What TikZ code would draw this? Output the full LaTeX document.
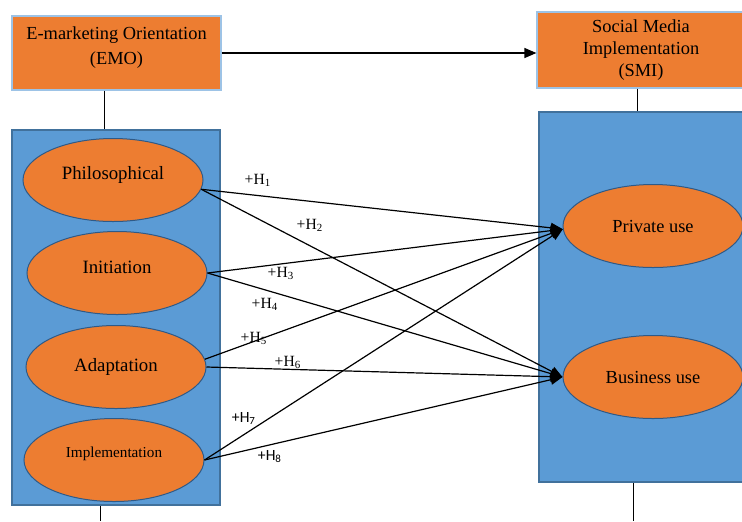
\documentclass[tikz,border=0pt]{standalone}
\usepackage{fontspec}
\setmainfont{Liberation Serif}
\newfontfamily\hsans{Carlito}
\usetikzlibrary{shapes.geometric,arrows.meta}

\definecolor{boxorange}{HTML}{ED7D31}
\definecolor{panelblue}{HTML}{5B9BD5}
\definecolor{paneledge}{HTML}{41719C}
\definecolor{lightedge}{HTML}{9DC3E6}
\definecolor{ovaledge}{HTML}{2E5A88}

\tikzset{
  construct/.style={draw=lightedge, line width=0.6pt, fill=boxorange, align=center, inner sep=0pt,
    font=\fontsize{9.2}{10.8}\selectfont},
  panel/.style={draw=paneledge, line width=0.9pt, fill=panelblue, inner sep=0pt},
  dimension/.style={ellipse, draw=ovaledge, line width=0.5pt, fill=boxorange, inner sep=0pt,
    minimum width=90pt, minimum height=41.5pt, font=\fontsize{9.4}{11}\selectfont},
  hyp/.style={-{Triangle[length=6pt,width=5pt]}, line width=0.6pt},
  hlabel/.style={inner sep=0pt, font=\fontsize{7.8}{9}\selectfont}
}

\begin{document}
\begin{tikzpicture}[x=0.5pt,y=-0.5pt]
  \useasboundingbox (0,0) rectangle (742,521);

  % top constructs
  \node[construct, minimum width=104.5pt, minimum height=37pt, text depth=7pt,
    font=\fontsize{9.2}{12.5}\selectfont] (emo) at (116.5,53)
    {E-marketing Orientation\\(EMO)};
  \node[construct, minimum width=104pt, minimum height=38pt] (smi) at (641,50)
    {Social Media\\Implementation\\(SMI)};

  % panels
  \node[panel, minimum width=104pt, minimum height=187.5pt] (leftpanel) at (116,317.5) {};
  \node[panel, minimum width=103pt, minimum height=185pt] (rightpanel) at (642,297) {};

  % dimensions of EMO
  \node[dimension, text depth=7pt] (phil) at (113,180) {Philosophical};
  \node[dimension, text depth=6pt] (init) at (117,273) {Initiation};
  \node[dimension] (adapt) at (116,367) {Adaptation};
  \node[dimension, text depth=8pt, font=\fontsize{7.6}{9}\selectfont] (impl) at (114,460) {Implementation};

  % dimensions of SMI
  \node[dimension, font=\fontsize{9.2}{11}\selectfont] (priv) at (653,226) {Private use};
  \node[dimension, font=\fontsize{9.2}{11}\selectfont] (bus) at (653,377) {Business use};

  \coordinate (lefttail) at (100,521);
  \coordinate (righttail) at (633,521);

  \draw[hyp] (emo.east) -- (emo.east -| smi.west);
  \draw[line width=0.5pt] ([xshift=-6pt]emo.south) -- ([xshift=-6pt]emo.south |- leftpanel.north);
  \draw[line width=0.5pt] ([xshift=-2pt]smi.south) -- ([xshift=-2pt]smi.south |- rightpanel.north);
  \draw[line width=0.5pt] (leftpanel.south -| lefttail) -- (lefttail);
  \draw[line width=0.5pt] (rightpanel.south -| righttail) -- (righttail);

  % hypotheses
  \draw[hyp] (phil.-6) -- (priv.182);
  \draw[hyp] (phil.-6) -- (bus.west);
  \draw[hyp] (init.east) -- (priv.182);
  \draw[hyp] (init.east) -- (bus.west);
  \draw[hyp] (adapt.5) -- (priv.182);
  \draw[hyp] (adapt.east) -- (bus.west);
  \draw[hyp] (impl.east) -- (priv.182);
  \draw[hyp] (impl.east) -- (bus.west);

  \node[hlabel] (h1) at (258,180) {+H\textsubscript{1}};
  \node[hlabel] (h2) at (310,225) {+H\textsubscript{2}};
  \node[hlabel] (h3) at (281,273) {+H\textsubscript{3}};
  \node[hlabel] (h4) at (265,304) {+H\textsubscript{4}};
  \node[hlabel] (h5) at (254,338) {+H\textsubscript{5}};
  \node[hlabel] (h6) at (288,362) {+H\textsubscript{6}};
  \node[hlabel, font=\hsans\fontsize{7.8}{9}\selectfont] (h7) at (244,418) {+H\textsubscript{7}};
  \node[hlabel, font=\hsans\fontsize{7.8}{9}\selectfont] (h8) at (270,457) {+H\textsubscript{8}};
\end{tikzpicture}
\end{document}
